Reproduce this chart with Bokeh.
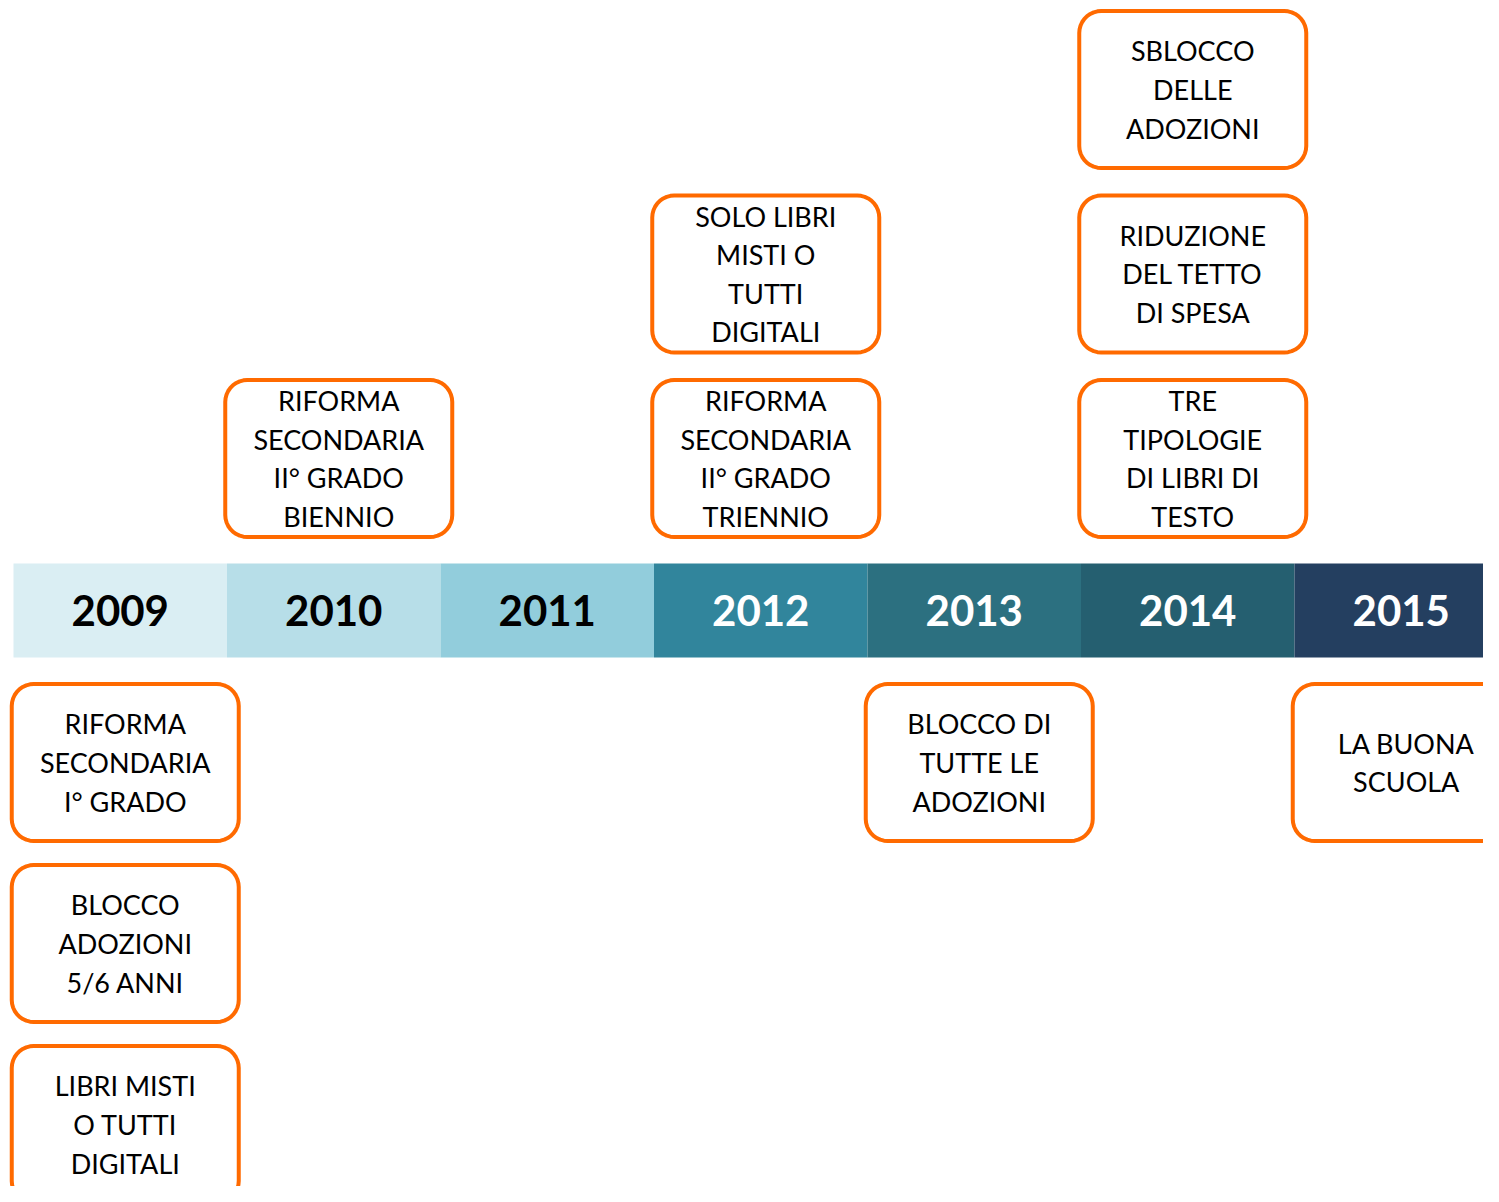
import numpy as np
from bokeh.plotting import figure
from bokeh.models import Range1d, ColumnDataSource
from bokeh.core.properties import value
from bokeh.embed import file_html
from bokeh.resources import INLINE

# ---------------- data ----------------
years = [2009, 2010, 2011, 2012, 2013, 2014, 2015]
year_labels = ["2009", "2010", "2011", "2012", "2013", "2014", "2015"]
band_colors = ["#DAEEF3", "#B7DEE8", "#92CDDC", "#31859C", "#2C7080", "#255F70", "#243F60"]
year_text_colors = ["#000000", "#000000", "#000000", "#FFFFFF", "#FFFFFF", "#FFFFFF", "#FFFFFF"]

event_years = [2009, 2009, 2009, 2010, 2012, 2012, 2013, 2014, 2014, 2014, 2015]
event_slots = [-1, -2, -3, 1, 1, 2, -1, 1, 2, 3, -1]   # + above the band, - below
event_labels = [
    "RIFORMA\nSECONDARIA\nI° GRADO",
    "BLOCCO\nADOZIONI\n5/6 ANNI",
    "LIBRI MISTI\nO TUTTI\nDIGITALI",
    "RIFORMA\nSECONDARIA\nII° GRADO\nBIENNIO",
    "RIFORMA\nSECONDARIA\nII° GRADO\nTRIENNIO",
    "SOLO LIBRI\nMISTI O\nTUTTI\nDIGITALI",
    "BLOCCO DI\nTUTTE LE\nADOZIONI",
    "TRE\nTIPOLOGIE\nDI LIBRI DI\nTESTO",
    "RIDUZIONE\nDEL TETTO\nDI SPESA",
    "SBLOCCO\nDELLE\nADOZIONI",
    "LA BUONA\nSCUOLA",
]

# ---------------- layout ----------------
W, H = 1483, 1186
PX_X = 213.5   # pixels per year
PX_Y = 181.0   # pixels per row
BAND_CY = 610  # band centre from top (px)
x0 = 2009 - 119.75 / PX_X
y_top = BAND_CY / PX_Y
y_bot = -(H - BAND_CY) / PX_Y

p = figure(width=W, height=H, output_backend="svg", toolbar_location=None,
           x_range=Range1d(x0, x0 + W / PX_X), y_range=Range1d(y_bot, y_top),
           min_border=0, outline_line_color=None, background_fill_color="white",
           border_fill_color="white")
p.axis.visible = False
p.grid.visible = False

band_half = 47 / PX_Y
yrs = np.array(years, dtype=float)
band = ColumnDataSource(dict(left=yrs - 0.5, right=yrs + 0.5, col=band_colors,
                             x=yrs, lab=year_labels, tcol=year_text_colors))
p.quad(left="left", right="right", bottom=-band_half, top=band_half,
       fill_color="col", line_color=None, source=band)
p.text(x="x", y=0, text="lab", text_color="tcol", source=band,
       text_font=value("Lato"), text_font_style="bold", text_font_size="42px",
       text_align="center", text_baseline="middle")

# event boxes
def slot_y(s):
    s = np.asarray(s, dtype=float)
    pitch = np.where(s > 0, 184.5 / PX_Y, 1.0)
    return np.sign(s) * (152 / PX_Y + (np.abs(s) - 1) * pitch)

ex = np.array(event_years, dtype=float) + 5 / PX_X
ey = slot_y(event_slots)
bw = 227 / PX_X
bh = 157 / PX_Y
rx = 22 / PX_X
ry = 22 / PX_Y

def rounded(xc, yc, w, h, rx, ry, n=10):
    xs, ys = [], []
    corners = [(xc + w / 2 - rx, yc + h / 2 - ry, 0.0),
               (xc - w / 2 + rx, yc + h / 2 - ry, np.pi / 2),
               (xc - w / 2 + rx, yc - h / 2 + ry, np.pi),
               (xc + w / 2 - rx, yc - h / 2 + ry, 3 * np.pi / 2)]
    for cx, cy, a0 in corners:
        t = np.linspace(a0, a0 + np.pi / 2, n)
        xs.extend(cx + rx * np.cos(t))
        ys.extend(cy + ry * np.sin(t))
    return xs, ys

pxs, pys = [], []
for xc, yc in zip(ex, ey):
    a, b = rounded(xc, yc, bw, bh, rx, ry)
    pxs.append(a)
    pys.append(b)

p.patches(pxs, pys, fill_color="white", line_color="#FF6A00", line_width=4)
p.text(x=ex, y=ey, text=event_labels, text_font=value("Lato"),
       text_font_size="27px", text_color="#000000", text_align="center",
       text_baseline="middle", text_line_height=1.17)

open("out.html", "w").write(file_html(p, INLINE))
